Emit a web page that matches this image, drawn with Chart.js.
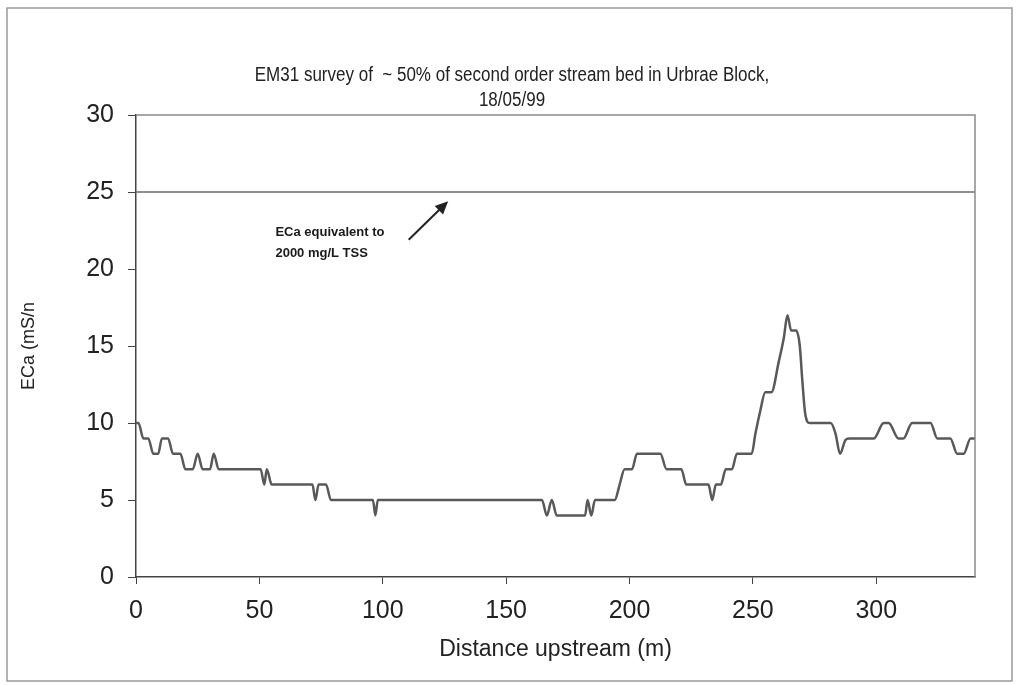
<!DOCTYPE html>
<html>
<head>
<meta charset="utf-8">
<title>EM31 survey</title>
<script src="https://cdn.jsdelivr.net/npm/chart.js@4.4.1/dist/chart.umd.min.js"></script>
<style>
  html, body { margin: 0; padding: 0; background: #fff; }
</style>
</head>
<body>
<canvas id="emChart" width="1016" height="685"></canvas>
<script>

/* ===== data ===== */

const distance = [
  0, 1, 3, 5, 7, 9, 10.5, 13, 15, 18,
  20, 23, 25, 27, 30, 31.5, 33.5, 50.5, 52, 53,
  55, 71.5, 72.7, 74, 77, 79, 96, 97, 98, 164.5,
  166.5, 168.5, 170.5, 182, 183, 184.5, 186, 194, 196, 198,
  201, 203, 212.5, 215, 221, 223, 232, 233.5, 235, 237,
  239, 241.5, 243.5, 249.5, 251, 253, 255, 257.5, 260.5, 262.5,
  264, 265.5, 267.5, 269, 270, 271.2, 273, 281.5, 283.5, 285.3,
  287.5, 289, 299, 303, 305, 309, 311, 314.5, 322, 324.7,
  330, 332.8, 335.4, 338.2, 340
]

const eca = [
  10, 10, 9, 9, 8, 8, 9, 9, 8, 8,
  7, 7, 8, 7, 7, 8, 7, 7, 6, 7,
  6, 6, 5, 6, 6, 5, 5, 4, 5, 5,
  4, 5, 4, 4, 5, 4, 5, 5, 6, 7,
  7, 8, 8, 7, 7, 6, 6, 5, 6, 6,
  7, 7, 8, 8, 9.3, 10.8, 12, 12, 14, 15.5,
  17, 16, 16, 15, 12.8, 10.6, 10, 10, 9.3, 8,
  8.9, 9, 9, 10, 10, 9, 9, 10, 10, 9,
  9, 8, 8, 9, 9
]

const thresholdDistance = [0, 340]
const thresholdEca = [25, 25]

const xTicks = [0, 50, 100, 150, 200, 250, 300]
const yTicks = [0, 5, 10, 15, 20, 25, 30]

const titleLines = [
  "EM31 survey of  ~ 50% of second order stream bed in Urbrae Block,",
  "18/05/99"
]

const noteLines = ["ECa equivalent to", "2000 mg/L TSS"]


/* ===== helpers ===== */

function toPoints(xs, ys) {
  return xs.map((x, i) => ({ x: x, y: ys[i] }))
}

const fontFamily = "'Liberation Sans', Arial, sans-serif"

const tickFont = {
  family: fontFamily,
  size: 25
}


/* ===== frame, title, box and note ===== */

const decorPlugin = {
  id: "decor",
  beforeDraw(chart) {
    const c = chart.ctx
    c.save()
    c.fillStyle = "#fff"
    c.fillRect(0, 0, chart.width, chart.height)
    c.strokeStyle = "#9a9a9a"
    c.lineWidth = 1.5
    c.strokeRect(7, 8, chart.width - 11, chart.height - 12)

    // title, a bit condensed like the original
    c.fillStyle = "#222"
    c.font = "20px " + fontFamily
    c.textAlign = "center"
    c.textBaseline = "middle"
    const cx = chart.width / 2 + 4
    c.translate(cx, 0)
    c.scale(0.85, 1)
    c.fillText(titleLines[0], 0, 75)
    c.fillText(titleLines[1], 0, 100)
    c.restore()
  },
  afterDatasetsDraw(chart) {
    const c = chart.ctx
    const a = chart.chartArea
    const xs = chart.scales.x
    const ys = chart.scales.y
    c.save()

    // top and right edges of the plot box
    c.strokeStyle = "#8a8a8a"
    c.lineWidth = 1.5
    c.beginPath()
    c.moveTo(a.left, a.top)
    c.lineTo(a.right, a.top)
    c.lineTo(a.right, a.bottom)
    c.stroke()

    // note text
    c.fillStyle = "#1a1a1a"
    c.font = "bold 13px " + fontFamily
    c.textBaseline = "middle"
    c.textAlign = "left"
    const tx = xs.getPixelForValue(56.5)
    c.fillText(noteLines[0], tx, ys.getPixelForValue(22.4))
    c.fillText(noteLines[1], tx, ys.getPixelForValue(21.0))

    // arrow
    const x0 = xs.getPixelForValue(110.5)
    const y0 = ys.getPixelForValue(21.9)
    const x1 = xs.getPixelForValue(126.5)
    const y1 = ys.getPixelForValue(24.4)
    const ang = Math.atan2(y1 - y0, x1 - x0)
    c.strokeStyle = "#222"
    c.lineWidth = 2
    c.beginPath()
    c.moveTo(x0, y0)
    c.lineTo(x1 - 8 * Math.cos(ang), y1 - 8 * Math.sin(ang))
    c.stroke()
    c.beginPath()
    c.moveTo(x1, y1)
    c.lineTo(x1 - 13 * Math.cos(ang) + 6 * Math.sin(ang),
             y1 - 13 * Math.sin(ang) - 6 * Math.cos(ang))
    c.lineTo(x1 - 13 * Math.cos(ang) - 6 * Math.sin(ang),
             y1 - 13 * Math.sin(ang) + 6 * Math.cos(ang))
    c.closePath()
    c.fillStyle = "#222"
    c.fill()

    c.restore()
  }
}


/* ===== chart ===== */

const ctx = document.getElementById("emChart").getContext("2d")

new Chart(ctx, {

  type: "line",

  data: {
    datasets: [
      {
        label: "ECa",
        data: toPoints(distance, eca),
        borderColor: "#595959",
        borderWidth: 2.5,
        pointRadius: 0,
        cubicInterpolationMode: "monotone",
        fill: false
      },
      {
        label: "2000 mg/L TSS",
        data: toPoints(thresholdDistance, thresholdEca),
        borderColor: "#6a6a6a",
        borderWidth: 1.5,
        pointRadius: 0,
        fill: false
      }
    ]
  },

  options: {
    responsive: false,
    animation: false,
    devicePixelRatio: 1,
    layout: {
      padding: { left: 18, right: 41, top: 115, bottom: 20 }
    },
    plugins: {
      legend: { display: false },
      tooltip: { enabled: false },
      title: { display: false }
    },
    scales: {
      x: {
        type: "linear",
        min: 0,
        max: 340,
        afterBuildTicks: s => { s.ticks = xTicks.map(v => ({ value: v })) },
        afterFit: s => { s.height = 685 - 577 - 20 },
        grid: {
          drawOnChartArea: false,
          drawTicks: true,
          tickLength: 7,
          color: "#444"
        },
        border: { display: true, color: "#444", width: 1.5 },
        ticks: {
          color: "#222",
          font: tickFont,
          padding: 12,
          maxRotation: 0
        },
        title: {
          display: true,
          text: "Distance upstream (m)",
          color: "#222",
          font: {
            family: fontFamily,
            size: 23
          },
          padding: { top: 0, bottom: 2 }
        }
      },
      y: {
        min: 0,
        max: 30,
        afterBuildTicks: s => { s.ticks = yTicks.map(v => ({ value: v })) },
        afterFit: s => { s.width = 136 - 18 },
        grid: {
          drawOnChartArea: false,
          drawTicks: true,
          tickLength: 8,
          color: "#444"
        },
        border: { display: true, color: "#444", width: 1.5 },
        ticks: {
          color: "#222",
          font: tickFont,
          padding: 14
        },
        title: {
          display: true,
          text: "ECa (mS/n",
          color: "#222",
          font: {
            family: fontFamily,
            size: 18
          },
          padding: { top: 0, bottom: 0 }
        }
      }
    }
  },

  plugins: [decorPlugin]

})

</script>
</body>
</html>
